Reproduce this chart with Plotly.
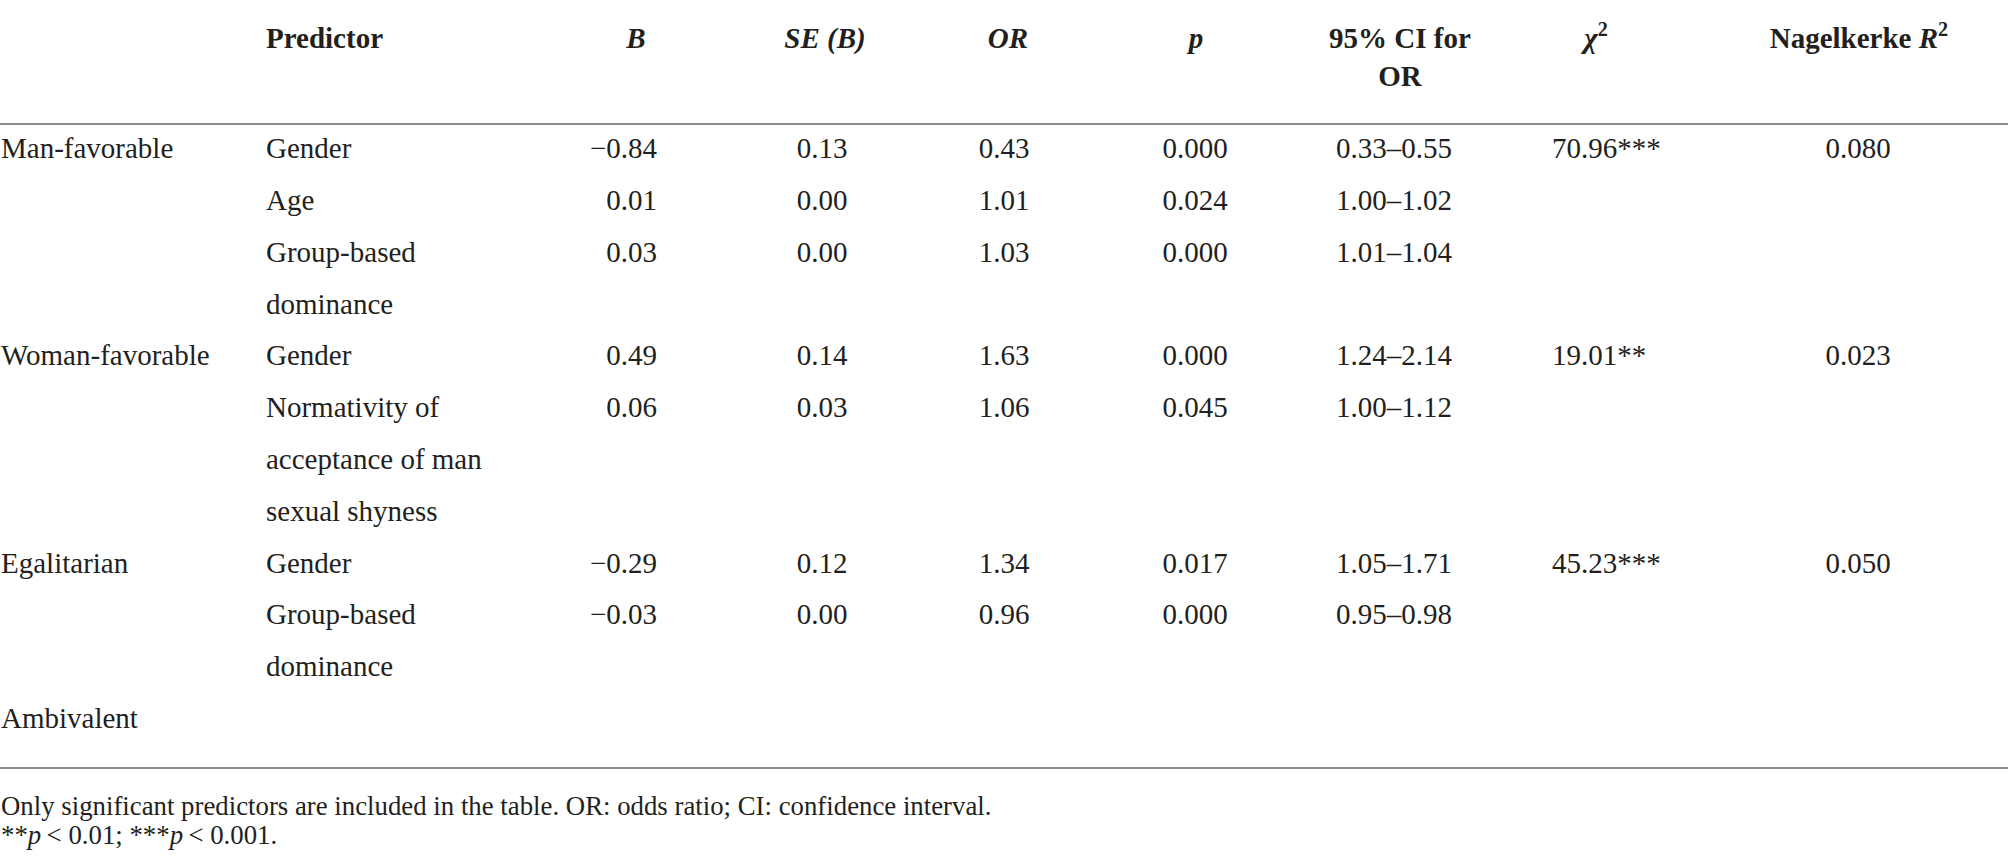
import plotly.graph_objects as go

# table content, row by row
groups = ["Man-favorable", "", "", "Woman-favorable", "", "Egalitarian", "", "Ambivalent"]
predictors = [
    ["Gender"],
    ["Age"],
    ["Group-based", "dominance"],
    ["Gender"],
    ["Normativity of", "acceptance of man", "sexual shyness"],
    ["Gender"],
    ["Group-based", "dominance"],
    [""],
]
b_vals = ["\u22120.84", "0.01", "0.03", "0.49", "0.06", "\u22120.29", "\u22120.03", ""]
se_vals = ["0.13", "0.00", "0.00", "0.14", "0.03", "0.12", "0.00", ""]
or_vals = ["0.43", "1.01", "1.03", "1.63", "1.06", "1.34", "0.96", ""]
p_vals = ["0.000", "0.024", "0.000", "0.000", "0.045", "0.017", "0.000", ""]
ci_vals = ["0.33\u20130.55", "1.00\u20131.02", "1.01\u20131.04", "1.24\u20132.14",
           "1.00\u20131.12", "1.05\u20131.71", "0.95\u20130.98", ""]
chi_vals = ["70.96***", "", "", "19.01**", "", "45.23***", "", ""]
r2_vals = ["0.080", "", "", "0.023", "", "0.050", "", ""]

headers = ["<b>Predictor</b>", "<b><i>B</i></b>", "<b><i>SE (B)</i></b>", "<b><i>OR</i></b>",
           "<b><i>p</i></b>", "<b>95% CI for</b>", "<b>OR</b>", "<b><i>\u03c7</i><sup>2</sup></b>",
           "<b>Nagelkerke <i>R</i><sup>2</sup></b>"]
notes = ["Only significant predictors are included in the table. OR: odds ratio; CI: confidence interval.",
         "**<i>p</i>\u2009< 0.01; ***<i>p</i>\u2009< 0.001."]

W, H = 2008, 860
FONT = "Liberation Serif"
INK = "#231f20"
FS = 29

# column positions
X_GROUP = 1
X_PRED = 266
X_B = 657      # right edge
X_SE = 822
X_OR = 1004
X_P = 1195
X_CI = 1394
X_CHI = 1552   # left edge
X_R2 = 1858

Y_HEAD = 41
Y_HEAD2 = 79
Y_TOP = 151
PITCH = 51.8

# y of each text line
row_y = []
y = Y_TOP
for lines in predictors:
    row_y.append(y)
    y += PITCH * len(lines)

left_x, left_y, left_t = [], [], []
cen_x, cen_y, cen_t = [], [], []
right_x, right_y, right_t = [], [], []


def put(xs, ys, ts, x, y, t):
    if t:
        xs.append(x); ys.append(y); ts.append(t)


for i, ry in enumerate(row_y):
    put(left_x, left_y, left_t, X_GROUP, ry, groups[i])
    for j, line in enumerate(predictors[i]):
        put(left_x, left_y, left_t, X_PRED, ry + j * PITCH, line)
    put(right_x, right_y, right_t, X_B, ry, b_vals[i])
    for xx, vals in [(X_SE, se_vals), (X_OR, or_vals), (X_P, p_vals), (X_CI, ci_vals), (X_R2, r2_vals)]:
        put(cen_x, cen_y, cen_t, xx, ry, vals[i])
    put(left_x, left_y, left_t, X_CHI, ry, chi_vals[i])

fig = go.Figure()


def add_text(xs, ys, ts, pos, size=FS):
    fig.add_trace(go.Scatter(
        x=xs, y=ys, text=ts, mode="text", textposition=pos,
        textfont=dict(family=FONT, size=size, color=INK),
        hoverinfo="skip", showlegend=False, cliponaxis=False))


add_text(left_x, left_y, left_t, "middle right")
add_text(cen_x, cen_y, cen_t, "middle center")
add_text(right_x, right_y, right_t, "middle left")

# header row
add_text([X_PRED], [Y_HEAD], [headers[0]], "middle right")
add_text([636, 825, 1008, 1196, 1400, 1400, 1596, 1859],
         [Y_HEAD, Y_HEAD, Y_HEAD, Y_HEAD, Y_HEAD, Y_HEAD2, Y_HEAD, Y_HEAD],
         headers[1:], "middle center")

# footnotes
add_text([X_GROUP, X_GROUP], [808, 837], notes, "middle right", size=26.8)

for ly in [124, 768]:
    fig.add_shape(type="line", x0=0, x1=W, y0=ly, y1=ly, xref="x", yref="y",
                  line=dict(color="#8a8a8a", width=2))

fig.update_xaxes(range=[0, W], visible=False, fixedrange=True)
fig.update_yaxes(range=[H, 0], visible=False, fixedrange=True)
fig.update_layout(width=W, height=H, margin=dict(l=0, r=0, t=0, b=0),
                  plot_bgcolor="white", paper_bgcolor="white")

# the page body has a default 8px margin; drop it so the table starts at the corner
fig.write_html("out.html", config={"displayModeBar": False},
               post_script="document.body.style.margin='0';")
